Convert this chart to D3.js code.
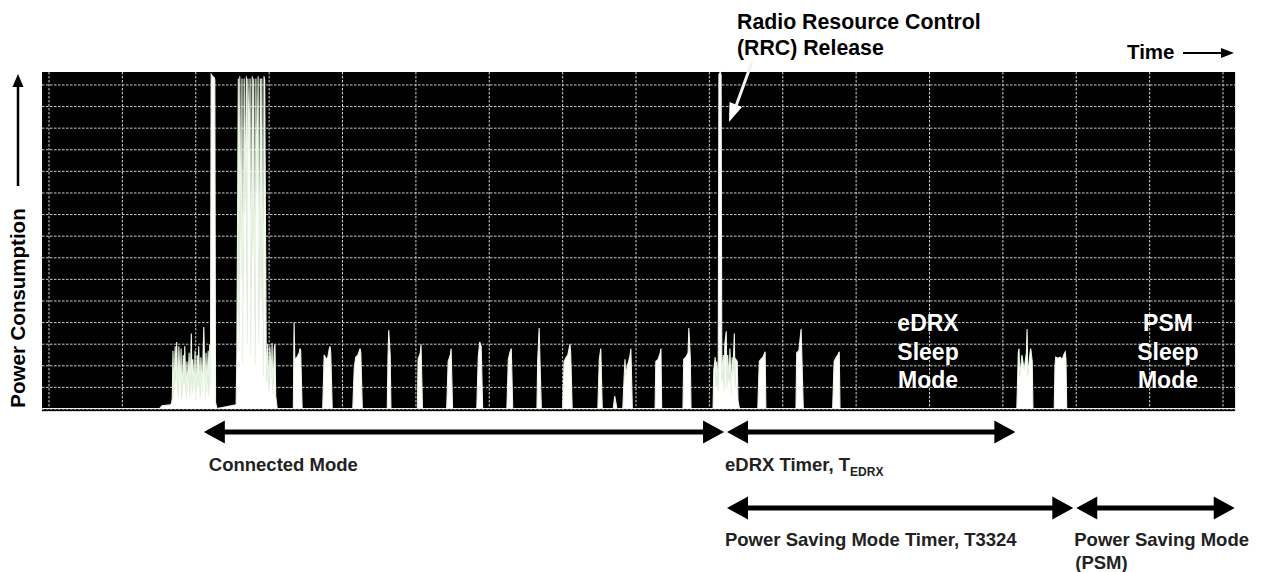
<!DOCTYPE html>
<html><head><meta charset="utf-8">
<script src="https://cdn.jsdelivr.net/npm/d3@7"></script>
<style>
html,body{margin:0;padding:0;background:#fff;}
svg{display:block;font-family:"Liberation Sans",Arial,sans-serif;font-weight:bold;}
</style></head><body>
<svg id="chart" width="1262" height="572"></svg>
<script>
// ---------- DATA (time in ms, 100 ms per grid division; power in grid divisions) ----------
const idleTrace = [[-9,0.02],[151,0.03],[154,0.15],[165,0.2],[167,0.25]];
const connectedTrace = [
 [168,0.5],[169,2.7],[170,0.6],[172,2.9],[173,1.2],[174,3.1],[176,0.5],[177,2.9],[179,0.9],[180,2.8],[181,0.4],[183,2.5],[184,1.1],[185,2.9],[187,0.4],[188,2.2],[189,0.8],[191,2.6],[192,0.5],[194,3.5],[195,0.7],[196,2.3],[198,0.9],[199,2.7],[200,0.4],[202,2.5],[203,1.0],[204,2.9],[206,0.5],[207,2.4],[209,0.8],[210,2.6],[211,3.8],[213,0.5],[214,2.6],[215,0.8],[217,2.7],[218,0.6],[219,3.0],[220,1.2],[221,15.5],[223,15.4],[225,15.35],[226,15.25],[227,0.3],[229,0.02],
 [255,0.2],[256,2.5],[258,15.3],[259,3.0],[260,15.4],[262,6],[263,15.3],[264,2.0],[266,15.3],[267,9],[269,15.4],[270,3],[271,15.3],[273,12],[274,15.3],[275,2.5],[277,15.4],[278,7],[279,15.3],[281,2],[282,15.3],[283,10],[285,15.4],[286,3],[288,15.3],[289,5],[290,15.3],[292,1.5],[293,15.4],[294,15.2],[296,2.8],[297,1.2],[298,3.0],[300,0.8],[301,2.9],[303,1.4],[304,3.05],[305,0.7],[307,2.8],[308,3.0],[309,0.6],[311,0.02],
 [333,0.02],[334,4.0],[335,2.3],[338,2.4],[341,2.6],[342,2.8],[343,2.7],[345,0.02],
 [373,0.02],[375,2.5],[378,2.3],[380,2.4],[382,2.8],[383,2.9],[384,2.6],[386,0.02],
 [414,0.02],[416,1.9],[418,2.4],[421,2.5],[424,2.8],[425,2.6],[427,0.02],
 [461,0.02],[462,2.4],[463,3.65],[465,2.5],[466,0.02],
 [502,0.02],[503,2.3],[506,2.6],[507,3.0],[509,0.02],
 [542,0.02],[544,2.2],[547,2.5],[548,2.8],[550,0.02],
 [583,0.02],[585,2.4],[587,3.1],[589,2.9],[591,0.02],
 [624,0.02],[626,2.3],[628,2.6],[630,2.8],[632,0.02],
 [665,0.02],[666,2.2],[668,3.75],[669,2.4],[671,0.02],
 [700,0.02],[702,2.2],[705,2.4],[707,2.5],[710,3.0],[711,2.6],[713,0.02],
 [748,0.02],[750,2.3],[752,2.8],[754,0.02],
 [769,0.02],[771,0.6],[774,0.02],
 [782,0.02],[784,1.6],[785,2.3],[786,1.5],[788,2.0],[790,2.2],[792,2.5],[793,2.8],[795,0.02],
 [826,0.02],[827,2.2],[830,2.3],[833,2.6],[834,2.8],[835,0.02],
 [864,0.02],[865,2.3],[868,2.4],[871,2.6],[872,3.75],[874,2.4],[875,0.02]
];
const releaseTrace = [
 [905,0.02],[906,1.8],[908,2.4],[909,1.0],[910,2.2],[912,0.8],[913,15.5],[915,15.6],[916,15.45],[917,1.2],[919,2.5],[920,0.8],[921,3.0],[923,3.6],[924,1.0],[925,2.5],[927,1.2],[928,2.8],[930,0.6],[931,2.4],[932,1.5],[934,3.5],[935,1.0],[936,2.3],[938,2.2],[939,0.4],[941,0.02]
];
const edrxTrace = [
 [966,0.02],[968,2.2],[970,2.3],[973,2.4],[976,2.65],[977,0.02],
 [1018,0.02],[1019,2.6],[1022,2.7],[1025,3.7],[1026,2.5],[1028,0.02],
 [1068,0.02],[1070,2.2],[1073,2.4],[1075,2.5],[1077,2.65],[1078,0.02],
 [1319,0.02],[1321,2.6],[1322,2.8],[1323,1.5],[1326,2.5],[1329,1.8],[1332,2.6],[1333,3.7],[1334,1.5],[1337,2.6],[1338,2.8],[1340,2.2],[1341,0.02],
 [1370,0.02],[1371,2.0],[1372,2.4],[1375,2.35],[1378,2.4],[1381,2.3],[1383,2.5],[1385,2.65],[1386,2.3],[1387,0.02]
];
const psmTrace = [[1400,0.02],[1616,0.02]];

// Phases (time spans of the bottom arrows)
const phaseLabels = ["Connected Mode", "eDRX Timer, T", "Power Saving Mode Timer, T3324", "Power Saving Mode"];
const phaseStart  = [211, 924, 924, 1400];
const phaseEnd    = [920, 1317, 1396, 1616];
const phaseRow    = [0, 0, 1, 1];
// In-plot sleep labels
const sleepLabels = [["eDRX","Sleep","Mode"],["PSM","Sleep","Mode"]];
const sleepLabelT = [1198, 1525];
// Grid
const gridT = d3.range(0, 1601, 100);
const gridV = d3.range(0, 16, 1);

// ---------- SCALES ----------
const x = d3.scaleLinear().domain([0, 1600]).range([49, 1223]);
const y = d3.scaleLinear().domain([0, 15.6]).range([409, 72]);
const tMin = -9.5, tMax = 1616.5;

const svg = d3.select("#chart");

// plot background
svg.append("rect").attr("x", x(tMin)).attr("y", y(15.6))
  .attr("width", x(tMax) - x(tMin)).attr("height", y(-0.1) - y(15.6)).attr("fill", "#000");

// grid
const g = svg.append("g");
g.selectAll("line.v").data(gridT).join("line")
  .attr("x1", d => x(d)).attr("x2", d => x(d)).attr("y1", y(15.6)).attr("y2", y(0))
  .attr("stroke", "#cfcfcf").attr("stroke-width", 1).attr("stroke-dasharray", "2.5,1.5");
g.selectAll("line.h").data(gridV).join("line")
  .attr("x1", x(tMin)).attr("x2", x(tMax)).attr("y1", d => y(d)).attr("y2", d => y(d))
  .attr("stroke", "#cfcfcf").attr("stroke-width", 1).attr("stroke-dasharray", "2.5,1.5");

// trace
const trace = [].concat(idleTrace, connectedTrace, releaseTrace, edrxTrace, psmTrace);
const area = d3.area().x(d => x(d[0])).y0(y(0)).y1(d => y(d[1]));
const line = d3.line().x(d => x(d[0])).y(d => y(d[1]));
svg.append("path").datum(trace).attr("d", area).attr("fill", "#ffffff");
svg.append("path").datum(trace).attr("d", line).attr("fill", "none")
  .attr("stroke", "#eaf6e4").attr("stroke-width", 1.1).attr("stroke-linejoin", "miter");

// sleep labels
sleepLabels.forEach((lines, i) => {
  const t = svg.append("text").attr("x", x(sleepLabelT[i])).attr("text-anchor", "middle")
    .attr("fill", "#fff").attr("font-size", 23);
  lines.forEach((s, j) => t.append("tspan").attr("x", x(sleepLabelT[i])).attr("y", 331 + j * 28.5).text(s));
});

// double arrows
function dblArrow(x1, x2, yy, color) {
  const hl = 21, hw = 11.5, st = 2.6;
  const p = `M${x1},${yy} L${x1+hl},${yy-hw} L${x1+hl},${yy-st} L${x2-hl},${yy-st} L${x2-hl},${yy-hw} L${x2},${yy} L${x2-hl},${yy+hw} L${x2-hl},${yy+st} L${x1+hl},${yy+st} L${x1+hl},${yy+hw} Z`;
  svg.append("path").attr("d", p).attr("fill", color);
}
const rowArrowY = [432, 508], rowTextY = [471, 546];
phaseLabels.forEach((lab, i) => {
  dblArrow(x(phaseStart[i]), x(phaseEnd[i]), rowArrowY[phaseRow[i]], "#000");
  const tx = svg.append("text").attr("x", x(phaseStart[i]) + (i === 0 ? 5 : -2))
    .attr("y", rowTextY[phaseRow[i]]).attr("font-size", 18.5).attr("fill", "#222");
  tx.append("tspan").text(lab);
  if (i === 1) tx.append("tspan").attr("font-size", 12).attr("dy", 5).text("EDRX");
  if (i === 3) svg.append("text").attr("x", x(phaseStart[i]) - 1).attr("y", rowTextY[1] + 23)
    .attr("font-size", 18.5).attr("fill", "#222").text("(PSM)");
});

// Power Consumption axis label + arrow
svg.append("text").attr("transform", "translate(25,308) rotate(-90)").attr("text-anchor", "middle")
  .attr("font-size", 20.5).attr("fill", "#000").text("Power Consumption");
svg.append("line").attr("x1", 18).attr("x2", 18).attr("y1", 186).attr("y2", 84).attr("stroke", "#000").attr("stroke-width", 2.5);
svg.append("path").attr("d", "M18,74 L12.5,87 L23.5,87 Z").attr("fill", "#000");

// Time label + arrow
svg.append("text").attr("x", 1127).attr("y", 59).attr("font-size", 20.5).attr("fill", "#000").text("Time");
svg.append("line").attr("x1", 1183).attr("x2", 1224).attr("y1", 53).attr("y2", 53).attr("stroke", "#000").attr("stroke-width", 2);
svg.append("path").attr("d", "M1234,53 L1221,48 L1221,58 Z").attr("fill", "#000");

// RRC annotation
const rt = svg.append("text").attr("font-size", 21.3).attr("fill", "#000");
rt.append("tspan").attr("x", 737).attr("y", 29).text("Radio Resource Control");
rt.append("tspan").attr("x", 737).attr("y", 55).text("(RRC) Release");
svg.append("line").attr("x1", 752).attr("y1", 62).attr("x2", 736).attr("y2", 106)
  .attr("stroke", "#f2f2f2").attr("stroke-width", 3);
svg.append("path").attr("d", "M729,122 L729.5,102 L742,107 Z").attr("fill", "#fff");
</script>
</body></html>
